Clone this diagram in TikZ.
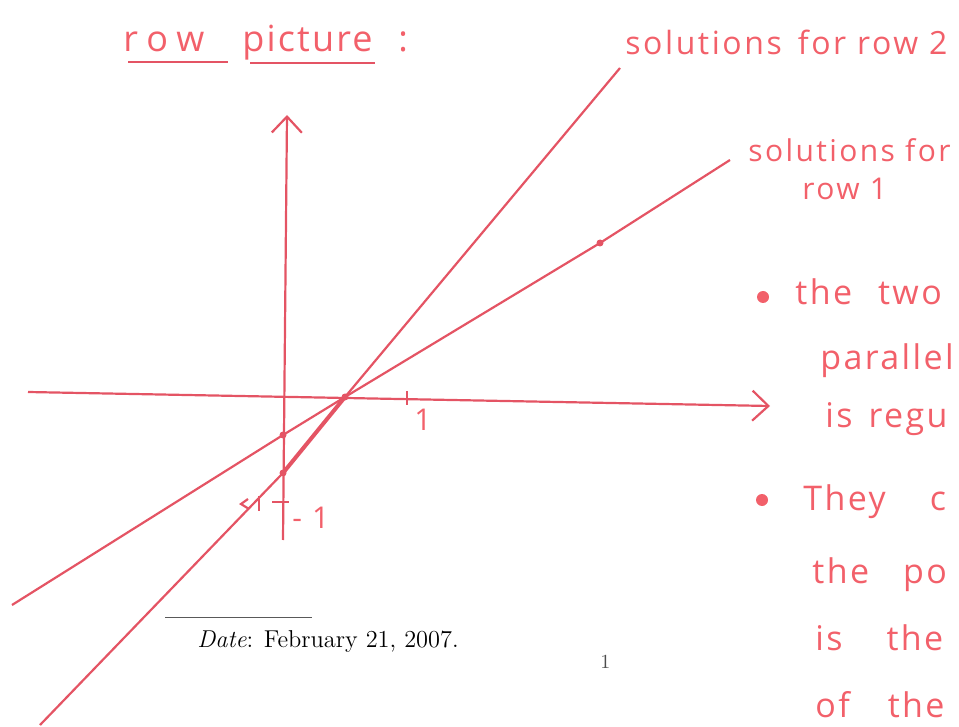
\documentclass[tikz,border=0pt]{standalone}
\usepackage{fontspec}
\usepackage{xcolor}
\usetikzlibrary{arrows.meta}
\newfontfamily\hand[LetterSpace=8]{Open Sans}
\definecolor{inkred}{RGB}{242,96,106}
\definecolor{linered}{RGB}{228,84,100}

\begin{document}
\begin{tikzpicture}[
  x=0.5pt, y=-0.5pt,
  axis/.style={draw=linered,line width=1.1pt,-{Straight Barb[length=8pt,width=15pt,line width=1.1pt]}},
  sol/.style={draw=linered,line width=1.1pt,line join=round},
  tick/.style={draw=linered,line width=1.1pt},
  hw/.style={text=inkred,font=\hand\fontsize{15}{18}\selectfont,anchor=base west,inner sep=0pt},
  hbig/.style={hw,font=\hand\addfontfeature{LetterSpace=6}\fontsize{18}{21}\selectfont},
  hwide/.style={hw,font=\hand\addfontfeature{LetterSpace=7}\fontsize{17}{20}\selectfont},
  bul/.style={circle,fill=inkred,inner sep=0pt,minimum size=6pt},
  dot/.style={circle,fill=linered,inner sep=0pt,minimum size=3.5pt}
]
  \useasboundingbox (0,0) rectangle (959,727);
  \clip (0,0) rectangle (959,727);
  % axes
  \coordinate (xl) at (28,392);
  \coordinate (xr) at (770,406);
  \coordinate (yb) at (283,540);
  \coordinate (yt) at (287,115);
  \draw[axis] (xl) -- (xr);
  \draw[axis] (yb) -- (yt);
  \draw[tick] (407,391) -- (407,405);
  \draw[tick] (272,502) -- (289,502);
  \draw[tick] (259,496) -- (259,511);
  \draw[tick] (248,499) -- (241,504) -- (249,509);
  \node[hw] (one) at (414,430) {1};
  \node[hw] (mone) at (292,528) {-\hspace{5pt}1};
  % the two lines
  \coordinate (a1) at (12,605);
  \coordinate (a2) at (730,160);
  \coordinate (b1) at (40,725);
  \coordinate (b2) at (620,68);
  \node[dot] (p1) at (283,435) {};
  \node[dot] (p2) at (283,473) {};
  \node[dot] (p0) at (345,397) {};
  \node[dot] (p3) at (600,243) {};
  \draw[sol] (a1) -- (p1.center) -- (p0.center) -- (p3.center) -- (a2);
  \draw[sol] (b1) -- (p2.center) -- (p0.center) -- (b2);
  \draw[sol,line width=2pt] (p2.center) -- (p0.center);
  % labels
  \node[hbig,font=\hand\addfontfeature{LetterSpace=25}\fontsize{18}{21}\selectfont] (title) at (123,52) {row};
  \node[hbig] (title2) at (242,52) {picture};
  \node[hbig] (colon) at (398,52) {:};
  \draw[tick,line width=0.9pt] (128,62) -- (228,62);
  \draw[tick,line width=0.9pt] (250,63) -- (375,63);
  \node[hw,font=\hand\fontsize{16}{19}\selectfont] (lab2) at (625,55) {solutions\hspace{8pt}for row 2};
  \node[hw] (lab1) at (748,162) {solutions for};
  \node[hw] (lab1b) at (802,200) {row 1};
  \node[bul] (bu1) at (763,297) {};
  \node[hwide] (t1) at (795,305) {the\hspace{13pt}two};
  \node[hwide] (t2) at (820,370) {parallel};
  \node[hwide] (t3) at (825,427) {is\hspace{8pt}regu};
  \node[bul] (bu2) at (762,500) {};
  \node[hwide] (t4) at (803,510) {They\hspace{22pt}c};
  \node[hwide] (t5) at (812,583) {the\hspace{17pt}po};
  \node[hwide] (t6) at (815,650) {is\hspace{22pt}the};
  \node[hwide] (t7) at (815,717) {of\hspace{19pt}the};
  % footer
  \draw[gray!70!black,line width=0.5pt] (165,617) -- (312,617);
  \node[anchor=base west,inner sep=0pt,font=\fontsize{12.2}{14}\selectfont] (date) at (197,647) {\textit{Date}: February 21, 2007.};
  \node[anchor=base west,inner sep=0pt,font=\fontsize{10}{12}\selectfont,gray!60!black] (page) at (600,668) {1};
\end{tikzpicture}
\end{document}
